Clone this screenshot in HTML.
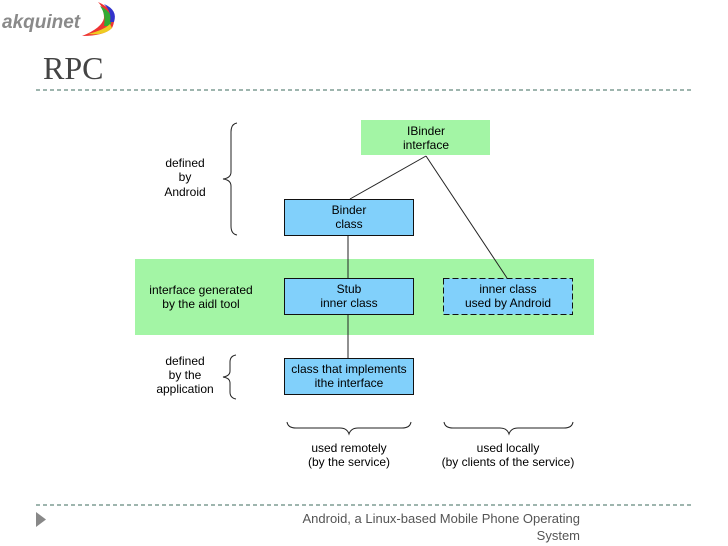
<!DOCTYPE html>
<html><head><meta charset="utf-8"><style>
html,body{margin:0;padding:0;background:#fff;}
svg{display:block;}
text{font-family:"Liberation Sans",sans-serif;}
</style></head><body>
<svg width="728" height="546" viewBox="0 0 728 546" xmlns="http://www.w3.org/2000/svg">
<text x="2" y="28" font-size="19" font-weight="bold" font-style="italic" fill="#8a8a8a">akquinet</text>
<g>
<path d="M98 2 Q120 12 112 28 Q104 36 82 36 Q102 28 104 18 Q104 8 98 2Z" fill="#e33"/>
<path d="M100 6 Q116 14 110 26 L104 26 Q106 14 100 6Z" fill="#3a3"/>
<path d="M104 4 Q118 10 114 22 L110 22 Q112 12 104 4Z" fill="#33c"/>
<path d="M88 34 Q104 30 110 24 L112 28 Q104 36 88 34Z" fill="#ec2"/>
</g>
<text x="43" y="79" font-size="32" fill="#444" style="font-family:'Liberation Serif',serif">RPC</text>
<line x1="36" y1="90" x2="692" y2="90" stroke="#3d6b5e" stroke-width="1" stroke-dasharray="4,3"/>
<line x1="36" y1="505" x2="692" y2="505" stroke="#3d6b5e" stroke-width="1" stroke-dasharray="4,3"/>
<path d="M36 512 L46 519.5 L36 527Z" fill="#888"/>
<text font-size="13" fill="#555" text-anchor="end"><tspan x="580" y="523">Android,  a Linux-based Mobile Phone Operating</tspan><tspan x="580" y="540">System</tspan></text>

<rect x="135" y="259" width="459" height="76" fill="#a3f5a5"/>
<rect x="361" y="120" width="129" height="35" fill="#a3f5a5"/>
<text font-size="12" fill="#000" text-anchor="middle"><tspan x="426" y="135">IBinder</tspan><tspan x="426" y="149">interface</tspan></text>
<line x1="426" y1="156" x2="350" y2="199" stroke="#222" stroke-width="1"/>
<line x1="426" y1="156" x2="507" y2="278" stroke="#222" stroke-width="1"/>
<line x1="348" y1="235" x2="348" y2="278" stroke="#222" stroke-width="1"/>
<line x1="348" y1="314" x2="348" y2="358" stroke="#222" stroke-width="1"/>
<rect x="284.5" y="199.5" width="129" height="36" fill="#81d0fb" stroke="#111"/>
<text font-size="12" text-anchor="middle"><tspan x="349" y="214">Binder</tspan><tspan x="349" y="228">class</tspan></text>
<rect x="284.5" y="278.5" width="129" height="36" fill="#81d0fb" stroke="#111"/>
<text font-size="12" text-anchor="middle"><tspan x="349" y="293">Stub</tspan><tspan x="349" y="307">inner class</tspan></text>
<rect x="443.5" y="278.5" width="129" height="36" fill="#81d0fb" stroke="#111" stroke-dasharray="6,3"/>
<text font-size="12" text-anchor="middle"><tspan x="508" y="293">inner class</tspan><tspan x="508" y="307">used by Android</tspan></text>
<rect x="284.5" y="358.5" width="129" height="36" fill="#81d0fb" stroke="#111"/>
<text font-size="12" text-anchor="middle"><tspan x="349" y="373">class that implements</tspan><tspan x="349" y="387">ithe interface</tspan></text>
<text font-size="12" text-anchor="middle"><tspan x="185" y="167">defined</tspan><tspan x="185" y="181">by</tspan><tspan x="185" y="196">Android</tspan></text>
<text font-size="12" text-anchor="middle"><tspan x="201" y="294">interface generated</tspan><tspan x="201" y="308">by the aidl tool</tspan></text>
<text font-size="12" text-anchor="middle"><tspan x="185" y="365">defined</tspan><tspan x="185" y="379">by the</tspan><tspan x="185" y="393">application</tspan></text>
<path d="M237 123 Q231 124 231 132 L231 172 Q231 178 223 179 Q231 180 231 186 L231 226 Q231 234 237 235" fill="none" stroke="#222"/>
<path d="M236 355 Q230 356 230 362 L230 371 Q230 376 223 377 Q230 378 230 383 L230 392 Q230 398 236 399" fill="none" stroke="#222"/>
<path d="M287 422 Q288 428 296 428 L340 428 Q347 428 349 434 Q351 428 358 428 L402 428 Q410 428 411 422" fill="none" stroke="#222"/>
<path d="M444 422 Q445 428 453 428 L500 428 Q507 428 509 434 Q511 428 518 428 L564 428 Q572 428 573 422" fill="none" stroke="#222"/>
<text font-size="12" text-anchor="middle"><tspan x="349" y="452">used remotely</tspan><tspan x="349" y="466">(by the service)</tspan></text>
<text font-size="12" text-anchor="middle"><tspan x="508" y="452">used locally</tspan><tspan x="508" y="466">(by clients of the service)</tspan></text>
</svg>
</body></html>
